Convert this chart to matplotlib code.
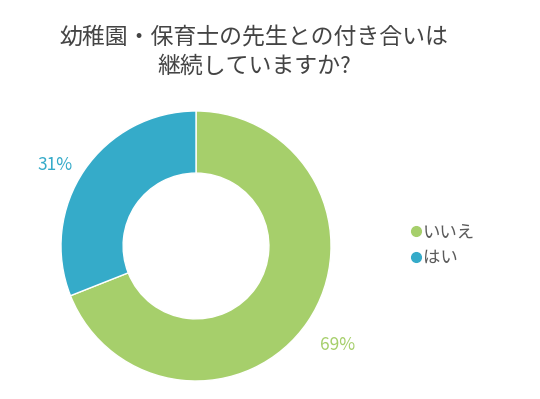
import matplotlib.pyplot as plt
from matplotlib.lines import Line2D

plt.rcParams['font.family'] = ['Noto Sans CJK JP', 'DejaVu Sans']

labels = ["いいえ", "はい"]
values = [69, 31]
colors = ["#a6cf6b", "#35abc9"]
title = "幼稚園・保育士の先生との付き合いは\n継続していますか?"

fig = plt.figure(figsize=(5.4, 3.99), dpi=100)
ax = fig.add_axes([(196 - 135) / 540, 1 - (246 + 135) / 399, 270 / 540, 270 / 399])

wedges, _ = ax.pie(values, colors=colors, startangle=90, counterclock=False,
                   radius=1.0, wedgeprops=dict(width=0.46, edgecolor="white", linewidth=1))
ax.set_xlim(-1, 1)
ax.set_ylim(-1, 1)
ax.set_aspect("equal")
ax.axis("off")

# percentage labels outside the ring
fig.text(55 / 540, 1 - 165 / 399, f"{values[1]}%", color=colors[1], fontsize=12.5,
         ha="center", va="center")
fig.text(338 / 540, 1 - 345 / 399, f"{values[0]}%", color=colors[0], fontsize=12.5,
         ha="center", va="center")

fig.text(254 / 540, 1 - 52 / 399, title, ha="center", va="center", fontsize=16.5,
         color="#444444", linespacing=1.3)

handles = [Line2D([0], [0], marker="o", linestyle="", markersize=7,
                  markerfacecolor=c, markeredgecolor=c) for c in colors]
fig.legend(handles, labels, loc="center left", bbox_to_anchor=(392 / 540, 1 - 245 / 399),
           frameon=False, fontsize=12.5, handletextpad=-0.1, handlelength=1.0,
           labelspacing=0.45, labelcolor="#5a5a5a")

fig.savefig("out.png", dpi=100, facecolor="white")
